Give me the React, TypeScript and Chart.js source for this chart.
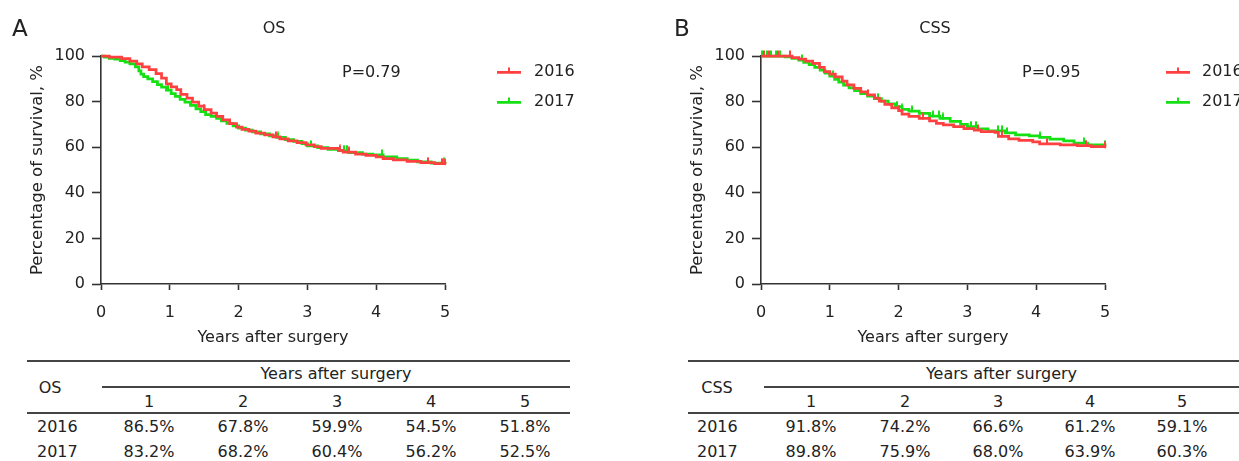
import React, { useEffect, useRef } from 'react';
import { Chart, registerables } from 'chart.js';

Chart.register(...registerables);

// ---------- Data ----------
const X_TICKS = [0, 1, 2, 3, 4, 5];
const Y_TICKS = [0, 20, 40, 60, 80, 100];
const GROUPS = ['2016', '2017'];

const OS_2016_TIME = [0, 0.12, 0.3, 0.42, 0.52, 0.6, 0.7, 0.8, 0.88, 0.95, 1.02, 1.1, 1.16, 1.25, 1.33, 1.42, 1.5, 1.6, 1.68, 1.77, 1.87, 1.97, 2.05, 2.15, 2.25, 2.38, 2.5, 2.6, 2.72, 2.85, 2.98, 3.1, 3.2, 3.45, 3.52, 3.7, 3.85, 4.0, 4.1, 4.25, 4.45, 4.65, 4.85, 5.0];
const OS_2016_SURV = [100, 99.5, 98.8, 97.8, 96.5, 95.2, 94.0, 92.3, 90.3, 87.8, 86.5, 85.2, 83.2, 81.5, 79.8, 78.0, 76.5, 75.0, 73.5, 72.0, 70.3, 68.8, 67.8, 67.0, 66.2, 65.4, 64.5, 63.6, 62.8, 62.0, 61.0, 60.2, 59.5, 58.6, 57.8, 57.0, 56.4, 55.8, 55.0, 54.4, 53.8, 53.2, 52.8, 52.6];
const OS_2016_CENSOR = [1.5, 2.55, 3.47, 3.6, 4.75, 4.95, 5.0];

const OS_2017_TIME = [0, 0.05, 0.12, 0.2, 0.28, 0.35, 0.42, 0.5, 0.55, 0.58, 0.62, 0.68, 0.75, 0.82, 0.88, 0.95, 1.02, 1.08, 1.15, 1.22, 1.3, 1.38, 1.45, 1.52, 1.6, 1.68, 1.75, 1.83, 1.92, 2.0, 2.1, 2.2, 2.32, 2.45, 2.55, 2.68, 2.8, 2.92, 3.0, 3.15, 3.3, 3.45, 3.6, 3.8, 3.95, 4.1, 4.3, 4.45, 4.6, 4.8, 5.0];
const OS_2017_SURV = [100, 99.5, 99.0, 98.6, 98.0, 97.3, 96.5, 95.2, 93.5, 92.0, 91.0, 90.0, 88.8, 87.5, 86.3, 85.0, 83.5, 82.3, 81.0, 79.8, 78.3, 76.8, 75.6, 74.3, 73.5, 72.6, 71.6, 70.5, 69.4, 68.4, 67.5, 66.7, 65.8, 65.0, 64.3, 63.3, 62.6, 61.6, 60.6, 59.8, 59.0, 58.5, 57.6, 57.0, 56.6, 55.8, 55.0, 54.3, 53.6, 53.0, 52.8];
const OS_2017_CENSOR = [0.97, 1.52, 2.57, 3.05, 3.53, 3.58, 4.08, 4.98];

const CSS_2016_TIME = [0, 0.45, 0.55, 0.65, 0.75, 0.85, 0.92, 1.0, 1.08, 1.18, 1.25, 1.35, 1.45, 1.55, 1.65, 1.72, 1.8, 1.9, 2.0, 2.05, 2.15, 2.3, 2.45, 2.55, 2.65, 2.8, 2.95, 3.1, 3.2, 3.4, 3.45, 3.6, 3.75, 3.95, 4.05, 4.35, 4.6, 4.8, 5.0];
const CSS_2016_SURV = [100, 99.3, 98.6, 97.8, 96.8, 95.0, 93.2, 92.0, 90.8, 89.0, 87.3, 85.8, 84.3, 83.0, 81.5, 80.2, 78.8, 77.2, 76.0, 74.5, 73.5, 72.6, 71.5, 70.5, 69.8, 69.0, 68.2, 67.5, 66.8, 66.5, 64.8, 63.6, 63.0, 62.3, 61.5, 61.0, 60.7, 60.3, 60.0];
const CSS_2016_CENSOR = [0.05, 0.12, 0.25, 0.42, 1.55, 2.0, 2.35, 3.15, 3.5, 4.15, 4.72, 5.0];

const CSS_2017_TIME = [0, 0.35, 0.45, 0.55, 0.62, 0.7, 0.78, 0.86, 0.93, 1.0, 1.07, 1.13, 1.2, 1.28, 1.36, 1.45, 1.55, 1.65, 1.75, 1.85, 1.95, 2.05, 2.15, 2.3, 2.45, 2.6, 2.75, 2.9, 3.0, 3.15, 3.3, 3.55, 3.7, 3.9, 4.05, 4.2, 4.4, 4.55, 4.75, 5.0];
const CSS_2017_SURV = [100, 99.6, 99.0, 98.2, 97.2, 96.2, 95.0, 93.8, 92.5, 91.2, 89.8, 88.5, 87.2, 86.0, 84.8, 83.5, 82.4, 81.3, 80.2, 79.0, 77.8, 76.6, 75.8, 74.8, 73.6, 72.6, 71.3, 70.0, 69.0, 68.0, 67.2, 66.3, 65.4, 65.0, 64.3, 63.5, 62.8, 61.8, 61.0, 60.6];
const CSS_2017_CENSOR = [0.02, 0.08, 0.15, 0.22, 0.28, 0.6, 1.05, 1.7, 1.98, 2.05, 2.2, 2.5, 2.58, 2.65, 3.05, 3.12, 3.45, 3.5, 3.58, 4.05, 4.7, 5.0];

const TABLE_YEARS = ['1', '2', '3', '4', '5'];
const OS_TABLE_2016 = ['86.5%', '67.8%', '59.9%', '54.5%', '51.8%'];
const OS_TABLE_2017 = ['83.2%', '68.2%', '60.4%', '56.2%', '52.5%'];
const CSS_TABLE_2016 = ['91.8%', '74.2%', '66.6%', '61.2%', '59.1%'];
const CSS_TABLE_2017 = ['89.8%', '75.9%', '68.0%', '63.9%', '60.3%'];

// ---------- Styles ----------
const FONT = '"DejaVu Sans", sans-serif';
const TEXT = '#222222';
const AXIS = '#333333';
const RED = '#ff4040';
const GREEN = '#14e014';
const PLOT_RIGHT = 445;
const LEGEND_PAD = 14;

function survivalAt(times: number[], surv: number[], t: number): number {
  let v = surv[0];
  for (let i = 0; i < times.length; i++) {
    if (times[i] <= t) v = surv[i];
  }
  return v;
}

function censorImage(color: string) {
  const c = document.createElement('canvas');
  c.width = 2;
  c.height = 12;
  const g = c.getContext('2d')!;
  g.fillStyle = color;
  g.fillRect(0, 0.5, 2, 6.5);
  return c;
}

function legendImage(color: string, width: number, lineStart: number) {
  const c = document.createElement('canvas');
  c.width = width;
  c.height = 12;
  const g = c.getContext('2d')!;
  g.fillStyle = color;
  g.fillRect(lineStart, 5, 24, 2.75);
  g.fillRect(lineStart + 11, 1.5, 2, 5);
  return c;
}

type Series = { label: string; color: string; time: number[]; surv: number[]; censor: number[] };
type Cfg = { left: number; width: number; legendW: number; legendLine: number; series: Series[] };

function KMChart({ cfg }: { cfg: Cfg }) {
  const ref = useRef<HTMLCanvasElement>(null);
  useEffect(() => {
    const canvas = ref.current!;
    const datasets: any[] = [];
    cfg.series.forEach((s) => {
      datasets.push({
        label: s.label,
        data: s.time.map((t, i) => ({ x: t, y: s.surv[i] })),
        borderColor: s.color,
        backgroundColor: s.color,
        borderWidth: 2.75,
        pointRadius: 0,
        stepped: true,
        fill: false,
        clip: false,
        xAxisID: 'x',
        yAxisID: 'y',
      });
      datasets.push({
        label: s.label + ' censored',
        data: s.censor.map((t) => ({ x: t, y: survivalAt(s.time, s.surv, t) })),
        showLine: false,
        pointStyle: censorImage(s.color),
        pointRadius: 3,
        borderColor: s.color,
        backgroundColor: s.color,
        clip: false,
        xAxisID: 'x',
        yAxisID: 'y',
      });
    });
    const legendItems = cfg.series.map((s, i) => ({
      text: s.label,
      pointStyle: legendImage(s.color, cfg.legendW, cfg.legendLine),
      fillStyle: 'rgba(0,0,0,0)',
      strokeStyle: 'rgba(0,0,0,0)',
      lineWidth: 0,
      hidden: false,
      datasetIndex: i * 2,
      fontColor: TEXT,
    }));
    // legend box width as Chart.js computes it, so the plot area ends at PLOT_RIGHT
    const meas = document.createElement('canvas').getContext('2d')!;
    meas.font = '16px ' + FONT;
    const textW = Math.max(...cfg.series.map((s) => meas.measureText(s.label).width));
    const legendWidth = LEGEND_PAD + cfg.legendW + 8 + textW + 10;
    const padRight = Math.max(0, cfg.width - PLOT_RIGHT - legendWidth);

    const tickFont = { family: FONT, size: 16 };
    const chart = new Chart(canvas, {
      type: 'line',
      data: { datasets },
      options: {
        animation: false,
        responsive: false,
        devicePixelRatio: 1,
        events: [],
        layout: { padding: { top: 50, left: 0, right: padRight, bottom: 0 } },
        scales: {
          x: {
            type: 'linear',
            position: 'bottom',
            min: X_TICKS[0],
            max: X_TICKS[X_TICKS.length - 1],
            afterBuildTicks: (s: any) => { s.ticks = X_TICKS.map((v) => ({ value: v })); },
            ticks: { padding: 13, color: TEXT, font: tickFont, maxRotation: 0 },
            grid: { drawOnChartArea: false, drawTicks: true, tickLength: 6, tickColor: AXIS, tickWidth: 1.6 },
            border: { display: true, color: AXIS, width: 1.6 },
            title: { display: true, text: 'Years after surgery', color: TEXT, font: tickFont, padding: { top: 4, bottom: 3 } },
            afterFit: (s: any) => { s.height = 66; },
          },
          xTop: {
            type: 'linear',
            position: 'top',
            min: 0,
            max: 5,
            grid: { display: false },
            border: { display: false },
            ticks: { display: false },
            afterFit: (s: any) => { s.height = 6; },
          },
          y: {
            type: 'linear',
            position: 'left',
            min: Y_TICKS[0],
            max: Y_TICKS[Y_TICKS.length - 1],
            afterBuildTicks: (s: any) => { s.ticks = Y_TICKS.map((v) => ({ value: v })); },
            ticks: { padding: 7, color: TEXT, font: tickFont },
            grid: { drawOnChartArea: false, drawTicks: true, tickLength: 9, tickColor: AXIS, tickWidth: 1.6 },
            border: { display: true, color: AXIS, width: 1.6 },
            title: { display: true, text: 'Percentage of survival, %', color: TEXT, font: { family: FONT, size: 16.5 }, padding: { top: 28, bottom: 0 } },
            afterFit: (s: any) => { s.width = 101; },
          },
        },
        plugins: {
          tooltip: { enabled: false },
          title: { display: false },
          legend: {
            display: true,
            position: 'right',
            align: 'start',
            fullSize: true,
            labels: {
              usePointStyle: true,
              pointStyleWidth: cfg.legendW,
              padding: LEGEND_PAD,
              color: TEXT,
              font: tickFont,
              generateLabels: () => legendItems as any,
            },
          },
        },
      } as any,
    });
    return () => chart.destroy();
  }, []);
  return (
    <canvas
      ref={ref}
      width={cfg.width}
      height={350}
      style={{ position: 'absolute', left: cfg.left, top: 0, width: cfg.width, height: 350 }}
    />
  );
}

function Txt({ x, y, children, size = 16, anchor = 'center' }: any) {
  return (
    <div
      style={{
        position: 'absolute',
        left: x,
        top: y,
        transform: anchor === 'center' ? 'translate(-50%, -50%)' : 'translate(0, -50%)',
        fontSize: size,
        lineHeight: 1,
        whiteSpace: 'nowrap',
        color: TEXT,
        fontFamily: FONT,
      }}
    >
      {children}
    </div>
  );
}

function HLine({ x1, x2, y }: { x1: number; x2: number; y: number }) {
  return <div style={{ position: 'absolute', left: x1, top: y - 0.75, width: x2 - x1, height: 1.5, background: '#444' }} />;
}

function SurvTable({ name, x0, x1, subX, nameX, rowX, cols, r2016, r2017 }: any) {
  const headX = (subX + x1) / 2;
  return (
    <>
      <HLine x1={x0} x2={x1} y={361} />
      <Txt x={nameX} y={388}>{name}</Txt>
      <Txt x={headX} y={374}>Years after surgery</Txt>
      <HLine x1={subX} x2={x1} y={387} />
      {TABLE_YEARS.map((yr, i) => (
        <Txt key={'h' + i} x={cols[i]} y={402}>{yr}</Txt>
      ))}
      <HLine x1={x0} x2={x1} y={413} />
      <Txt x={rowX} y={427} anchor="left">{GROUPS[0]}</Txt>
      <Txt x={rowX} y={452} anchor="left">{GROUPS[1]}</Txt>
      {r2016.map((v: string, i: number) => (
        <Txt key={'a' + i} x={cols[i]} y={427}>{v}</Txt>
      ))}
      {r2017.map((v: string, i: number) => (
        <Txt key={'b' + i} x={cols[i]} y={452}>{v}</Txt>
      ))}
    </>
  );
}

const OS_CFG: Cfg = {
  left: 0,
  width: 620,
  legendW: 67,
  legendLine: 38,
  series: [
    { label: GROUPS[0], color: RED, time: OS_2016_TIME, surv: OS_2016_SURV, censor: OS_2016_CENSOR },
    { label: GROUPS[1], color: GREEN, time: OS_2017_TIME, surv: OS_2017_SURV, censor: OS_2017_CENSOR },
  ],
};

const CSS_CFG: Cfg = {
  left: 660,
  width: 600,
  legendW: 75,
  legendLine: 47,
  series: [
    { label: GROUPS[0], color: RED, time: CSS_2016_TIME, surv: CSS_2016_SURV, censor: CSS_2016_CENSOR },
    { label: GROUPS[1], color: GREEN, time: CSS_2017_TIME, surv: CSS_2017_SURV, censor: CSS_2017_CENSOR },
  ],
};

export default function App() {
  return (
    <div style={{ position: 'absolute', left: 0, top: 0, width: 1239, height: 461, background: '#fff', overflow: 'hidden', fontFamily: FONT }}>
      <KMChart cfg={OS_CFG} />
      <KMChart cfg={CSS_CFG} />
      <Txt x={12} y={28} size={23} anchor="left">A</Txt>
      <Txt x={674} y={28} size={23} anchor="left">B</Txt>
      <Txt x={274} y={28}>OS</Txt>
      <Txt x={935} y={28}>CSS</Txt>
      <Txt x={342} y={72} anchor="left">P=0.79</Txt>
      <Txt x={1022} y={72} anchor="left">P=0.95</Txt>
      <SurvTable name="OS" x0={27} x1={570} subX={102} nameX={50} rowX={37} cols={[149, 243, 337, 431, 525]} r2016={OS_TABLE_2016} r2017={OS_TABLE_2017} />
      <SurvTable name="CSS" x0={688} x1={1239} subX={764} nameX={717} rowX={697} cols={[811, 905, 998, 1090, 1182]} r2016={CSS_TABLE_2016} r2017={CSS_TABLE_2017} />
    </div>
  );
}
